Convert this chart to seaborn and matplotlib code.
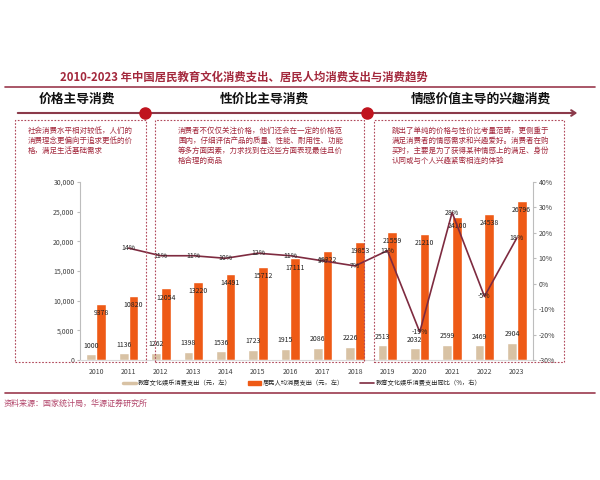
import seaborn as sns
import pandas as pd
import numpy as np
import matplotlib
matplotlib.use('Agg')
import matplotlib.pyplot as plt
from matplotlib.patches import Rectangle, Patch, FancyArrowPatch
from matplotlib.lines import Line2D
from matplotlib.ticker import FuncFormatter

# 데이터
years = ['2010', '2011', '2012', '2013', '2014', '2015', '2016',
         '2017', '2018', '2019', '2020', '2021', '2022', '2023']
edu_spend = [1000, 1136, 1262, 1398, 1536, 1723, 1915, 2086, 2226, 2513, 2032, 2599, 2469, 2904]
consume_spend = [9378, 10820, 12054, 13220, 14491, 15712, 17111, 18322, 19853, 21559, 21210, 24100, 24538, 26796]
edu_growth = [np.nan, 14, 11, 11, 10, 12, 11, 9, 7, 13, -19, 28, -5, 18]

legend_labels = ['教育文化娱乐消费支出（元，左）', '居民人均消费支出（元，左）', '教育文化娱乐消费支出同比（%，右）']
phases = ['价格主导消费', '性价比主导消费', '情感价值主导的兴趣消费']
phase_notes = [
    '社会消费水平相对较低，人们的\n消费理念更偏向于追求更低的价\n格，满足生活基础需求',
    '消费者不仅仅关注价格，他们还会在一定的价格范\n围内，仔细评估产品的质量、性能、耐用性、功能\n等多方面因素，力求找到在这些方面表现最佳且价\n格合理的商品',
    '跳出了单纯的价格与性价比考量范畴，更侧重于\n满足消费者的情感需求和兴趣爱好。消费者在购\n买时，主要是为了获得某种情感上的满足、身份\n认同或与个人兴趣紧密相连的体验',
]
title = '2010-2023 年中国居民教育文化消费支出、居民人均消费支出与消费趋势'
source = '资料来源：国家统计局，华源证券研究所'

beige = '#d8c2a4'
orange = '#ee5a16'
maroon = '#7e2b40'
darkred = '#a3283c'

sns.set_style('white')
plt.rcParams['font.family'] = ['Noto Sans CJK SC', 'DejaVu Sans']

W, H = 600, 480
fig = plt.figure(figsize=(6, 4.8), dpi=100)

def fx(x):
    return x / W

def fy(y):
    return 1 - y / H

# 축 위치 (픽셀 -> figure 비율)
ax = fig.add_axes([fx(80), fy(360), fx(533) - fx(80), fy(182) - fy(360)])

df = pd.DataFrame({
    '年份': years * 2,
    '金额': edu_spend + consume_spend,
    '系列': [legend_labels[0]] * len(years) + [legend_labels[1]] * len(years),
})
sns.barplot(data=df, x='年份', y='金额', hue='系列', palette=[beige, orange],
            width=0.6, saturation=1, legend=False, ax=ax)

ax2 = ax.twinx()
idx = np.arange(len(years))
sns.lineplot(x=idx[1:], y=edu_growth[1:], color=maroon, lw=1.2, ax=ax2)

ax.set_xlim(-0.5, len(years) - 0.5)
ax.set_ylim(0, 30000)
ax.set_yticks(range(0, 30001, 5000))
ax.yaxis.set_major_formatter(FuncFormatter(lambda v, p: f'{int(v):,}'))
ax2.set_ylim(-30, 40)
ax2.set_yticks(range(-30, 41, 10))
ax2.yaxis.set_major_formatter(FuncFormatter(lambda v, p: f'{int(v)}%'))
ax.set_xlabel('')
ax.set_ylabel('')
ax2.set_ylabel('')

for a in (ax, ax2):
    for s in a.spines.values():
        s.set_visible(False)
ax.spines['left'].set_visible(True)
ax.spines['left'].set_color('#bdbdbd')
ax.spines['bottom'].set_visible(True)
ax.spines['bottom'].set_color('#d9d9d9')
ax2.spines['right'].set_visible(True)
ax2.spines['right'].set_color('#bdbdbd')

ax.tick_params(axis='y', labelsize=5, length=2, color='#bdbdbd', pad=2, labelcolor='#404040', left=True)
ax.tick_params(axis='x', labelsize=5, length=0, pad=6, labelcolor='#404040')
ax2.tick_params(axis='y', labelsize=5, length=2, color='#bdbdbd', pad=2, labelcolor='#404040', right=True)

# 데이터 라벨
for i, v in enumerate(consume_spend):
    ax.annotate(str(v), (i + 0.15, v), xytext=(0, -6.5), textcoords='offset points',
                ha='center', va='center', fontsize=5, color='#222222')
for i, v in enumerate(edu_spend):
    ax.annotate(str(v), (i - 0.15, v), xytext=(0, 6), textcoords='offset points',
                ha='center', va='center', fontsize=5, color='#222222')
for i, g in enumerate(edu_growth):
    if not np.isnan(g):
        ax2.text(i, g, f'{int(g)}%', ha='center', va='center', fontsize=5, color='#222222')

# 범례
handles = [Line2D([], [], color=beige, lw=2.5),
           Patch(facecolor=orange, edgecolor=orange),
           Line2D([], [], color=maroon, lw=1.2)]
fig.legend(handles, legend_labels, loc='center', bbox_to_anchor=(fx(302), fy(383)),
           ncol=3, frameon=False, fontsize=4.5, handlelength=2.2, handleheight=0.5,
           columnspacing=2.5, handletextpad=0.3)

# 제목, 구분선
fig.text(fx(60), fy(77), title, fontsize=8.2, fontweight='bold', color=darkred, va='center', ha='left')
fig.add_artist(Line2D([fx(5), fx(595)], [fy(87), fy(87)], color='#9b3a4e', lw=1.2))
fig.add_artist(Line2D([fx(5), fx(595)], [fy(393), fy(393)], color='#9b3a4e', lw=1.2))
fig.text(fx(4), fy(403), source, fontsize=5.8, color='#b2456a', va='center', ha='left')

# 단계 라벨, 화살표
for x, t in zip([77, 264, 481], phases):
    fig.text(fx(x), fy(99), t, fontsize=9.2, fontweight='bold', color='#111111', ha='center', va='center')
fig.add_artist(FancyArrowPatch((fx(15), fy(113)), (fx(580), fy(113)), transform=fig.transFigure,
                               arrowstyle='->,head_length=3,head_width=2', color='#8b3a4a', lw=1.5))
fig.add_artist(Line2D([fx(145), fx(367)], [fy(113), fy(113)], ls='none', marker='o',
                      markersize=8, color='#c0141e'))

# 점선 상자
boxes = [(15, 146), (155, 364), (374, 564)]
for (x0, x1), note, tx in zip(boxes, phase_notes, [28, 178, 392]):
    fig.add_artist(Rectangle((fx(x0), fy(362)), fx(x1) - fx(x0), fy(120) - fy(362),
                             transform=fig.transFigure, fill=False, ls=(0, (1.5, 1.5)),
                             lw=0.8, edgecolor='#b0485a'))
    fig.text(fx(tx), fy(127), note, fontsize=5.4, color=darkred, ha='left', va='top', linespacing=1.35)

fig.savefig('out.png', dpi=100)
